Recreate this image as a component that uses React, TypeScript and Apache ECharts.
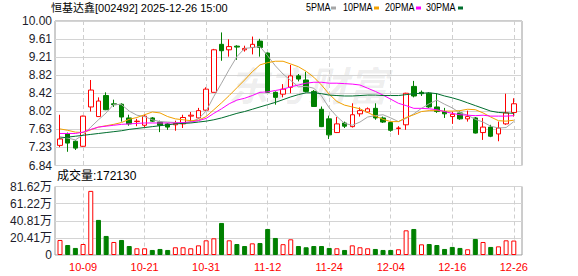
import React, { useEffect, useRef } from "react";
import * as echarts from "echarts";

const dates = [
  "09-26", "09-29", "09-30", "10-09", "10-10", "10-13", "10-14", "10-15", "10-16", "10-17",
  "10-20", "10-21", "10-22", "10-23", "10-24", "10-27", "10-28", "10-29", "10-30", "10-31",
  "11-03", "11-04", "11-05", "11-06", "11-07", "11-10", "11-11", "11-12", "11-13", "11-14",
  "11-17", "11-18", "11-19", "11-20", "11-21", "11-24", "11-25", "11-26", "11-27", "11-28",
  "12-01", "12-02", "12-03", "12-04", "12-05", "12-08", "12-09", "12-10", "12-11", "12-12",
  "12-15", "12-16", "12-17", "12-18", "12-19", "12-22", "12-23", "12-24", "12-25", "12-26",
];
const xTickLabels = ["10-09", "10-21", "10-31", "11-12", "11-24", "12-04", "12-16", "12-26"];

const opens = [
  7.28, 7.53, 7.37, 7.26, 8.12, 7.91, 8.37, 8.19, 8.18, 7.88,
  7.80, 7.72, 7.88, 7.79, 7.75, 7.73, 7.75, 7.92, 7.88, 8.05,
  8.44, 9.49, 9.37, 9.45, 9.37, 9.42, 9.56, 9.30, 8.44, 8.40,
  8.55, 8.80, 8.71, 8.46, 8.07, 7.86, 7.56, 7.77, 7.69, 7.97,
  8.01, 8.09, 7.88, 7.78, 7.65, 7.73, 8.57, 8.44, 8.42, 8.12,
  8.02, 7.91, 7.99, 7.86, 7.88, 7.56, 7.68, 7.53, 7.75, 8.00,
];
const closes = [
  7.42, 7.33, 7.22, 7.92, 8.49, 8.25, 8.06, 8.17, 7.90, 7.75,
  7.81, 7.92, 7.81, 7.72, 7.68, 7.76, 7.89, 7.94, 8.04, 8.51,
  9.37, 9.35, 9.44, 9.43, 9.40, 9.49, 9.42, 8.44, 8.33, 8.51,
  8.80, 8.73, 8.46, 8.13, 7.69, 7.51, 7.75, 7.70, 7.95, 8.04,
  8.08, 7.88, 7.79, 7.61, 7.66, 8.42, 8.36, 8.41, 8.12, 8.02,
  7.97, 7.96, 7.86, 7.91, 7.55, 7.68, 7.48, 7.66, 7.99, 8.19,
];
const lows = [
  7.24, 7.14, 7.18, 7.25, 8.02, 7.91, 8.05, 8.12, 7.80, 7.71,
  7.70, 7.67, 7.79, 7.57, 7.62, 7.60, 7.66, 7.80, 7.86, 8.04,
  8.44, 9.13, 9.22, 9.15, 9.33, 9.27, 9.22, 8.43, 8.17, 8.33,
  8.42, 8.68, 8.44, 8.12, 7.68, 7.42, 7.55, 7.66, 7.67, 7.91,
  7.99, 7.84, 7.77, 7.58, 7.51, 7.62, 8.33, 8.36, 8.10, 7.99,
  7.88, 7.75, 7.84, 7.80, 7.54, 7.40, 7.46, 7.37, 7.73, 7.91,
];
const highs = [
  7.95, 7.56, 7.39, 7.93, 8.71, 8.33, 8.44, 8.28, 8.20, 7.95,
  7.86, 7.95, 7.90, 7.82, 7.77, 7.82, 7.95, 8.01, 8.10, 8.55,
  9.39, 9.75, 9.60, 9.47, 9.46, 9.66, 9.61, 9.31, 8.46, 8.62,
  9.04, 8.84, 8.89, 8.49, 8.13, 7.93, 7.90, 7.80, 8.20, 8.11,
  8.11, 8.20, 7.91, 7.80, 7.70, 8.43, 8.69, 8.48, 8.44, 8.42,
  8.10, 8.02, 8.02, 8.04, 7.90, 7.88, 7.73, 7.80, 8.41, 8.31,
];

const ma5 = [
  7.47, 7.44, 7.40, 7.51, 7.68, 7.84, 7.99, 8.18, 8.17, 8.03,
  7.94, 7.91, 7.84, 7.80, 7.79, 7.78, 7.77, 7.80, 7.86, 8.03,
  8.35, 8.64, 8.94, 9.22, 9.40, 9.42, 9.44, 9.24, 9.02, 8.84,
  8.70, 8.56, 8.57, 8.53, 8.36, 8.10, 7.91, 7.76, 7.72, 7.79,
  7.90, 7.93, 7.95, 7.88, 7.80, 7.87, 7.97, 8.09, 8.19, 8.27,
  8.18, 8.10, 7.99, 7.94, 7.85, 7.79, 7.70, 7.66, 7.67, 7.80,
];
const ma10 = [
  7.64, 7.61, 7.57, 7.56, 7.62, 7.68, 7.71, 7.74, 7.78, 7.85,
  7.89, 7.95, 8.01, 7.99, 7.91, 7.86, 7.84, 7.82, 7.83, 7.91,
  8.06, 8.21, 8.37, 8.54, 8.71, 8.89, 9.04, 9.09, 9.12, 9.12,
  9.06, 9.00, 8.90, 8.77, 8.60, 8.40, 8.24, 8.16, 8.12, 8.08,
  8.00, 7.92, 7.85, 7.80, 7.80, 7.89, 7.95, 8.02, 8.04, 8.04,
  8.03, 8.03, 8.04, 8.07, 8.06, 7.99, 7.90, 7.82, 7.81, 7.83,
];
const ma20 = [
  7.54, 7.54, 7.54, 7.57, 7.63, 7.68, 7.70, 7.72, 7.74, 7.75,
  7.76, 7.77, 7.77, 7.77, 7.77, 7.77, 7.78, 7.79, 7.82, 7.87,
  7.98, 8.08, 8.19, 8.27, 8.31, 8.37, 8.44, 8.45, 8.48, 8.51,
  8.56, 8.60, 8.64, 8.66, 8.66, 8.64, 8.64, 8.63, 8.62, 8.60,
  8.53, 8.46, 8.38, 8.29, 8.20, 8.15, 8.09, 8.09, 8.08, 8.06,
  8.02, 7.98, 7.95, 7.94, 7.93, 7.94, 7.92, 7.92, 7.92, 7.93,
];
const ma30 = [
  7.44, 7.46, 7.48, 7.50, 7.52, 7.54, 7.56, 7.58, 7.60, 7.63,
  7.65, 7.67, 7.69, 7.71, 7.73, 7.75, 7.76, 7.77, 7.79, 7.81,
  7.84, 7.88, 7.93, 7.98, 8.02, 8.07, 8.12, 8.17, 8.22, 8.28,
  8.34, 8.39, 8.43, 8.43, 8.41, 8.38, 8.37, 8.36, 8.36, 8.37,
  8.38, 8.38, 8.37, 8.37, 8.37, 8.39, 8.41, 8.42, 8.43, 8.41,
  8.36, 8.32, 8.27, 8.21, 8.15, 8.09, 8.03, 8.00, 7.99, 7.98,
];

const volumes = [
  179000, 119000, 84000, 131000, 764000, 418000, 227000, 155000, 179000, 107000,
  80000, 80000, 60000, 72000, 60000, 92000, 92000, 80000, 115000, 175000,
  199000, 382000, 175000, 131000, 107000, 139000, 143000, 310000, 203000, 129000,
  187000, 107000, 92000, 107000, 107000, 84000, 80000, 60000, 115000, 92000,
  80000, 72000, 60000, 60000, 68000, 294000, 310000, 127000, 131000, 119000,
  72000, 96000, 84000, 68000, 191000, 155000, 96000, 103000, 175000, 172130,
];

const PRICE_MIN = 6.84;
const PRICE_MAX = 10.0;
const PRICE_STEP = 0.395;
const priceTickLabels = ["6.84", "7.23", "7.63", "8.02", "8.42", "8.82", "9.21", "9.61", "10.00"];
const VOL_MAX = 816200;
const VOL_STEP = 204050;
const volTickLabels = ["0", "20.41万", "40.81万", "61.22万", "81.62万"];

const maNames = ["5PMA", "10PMA", "20PMA", "30PMA"];
const maColors = ["#a6a6a6", "#f2a100", "#ff00ff", "#006e2e"];
const maSeries = [ma5, ma10, ma20, ma30];

const titleText = "恒基达鑫[002492] 2025-12-26 15:00";

const RED = "#ff0000";
const GREEN = "#008000";
const FONT = "'Liberation Sans', 'Noto Sans CJK SC', sans-serif";

export default function App() {
  const ref = useRef<HTMLDivElement>(null);

  useEffect(() => {
    if (!ref.current) return;
    const chart = echarts.init(ref.current, undefined, { renderer: "svg" });

    const showLabel = (idx: number) => xTickLabels.indexOf(dates[idx]) >= 0;

    const candleData = dates.map((_, i) => [opens[i], closes[i], lows[i], highs[i]]);
    const volData = volumes.map((v, i) => {
      const up = i === 0 ? closes[0] >= opens[0] : closes[i] >= closes[i - 1];
      return {
        value: v,
        itemStyle: {
          color: up ? "#ffffff" : GREEN,
          borderColor: up ? RED : GREEN,
          borderWidth: 1,
        },
      };
    });

    const legendGraphics: any[] = [];
    const legendTextX = [306, 343, 385, 426];
    const legendBoxX = [331, 374, 416, 458];
    maNames.forEach((name, i) => {
      legendGraphics.push({
        type: "text",
        x: legendTextX[i],
        y: 2,
        scaleX: 0.82,
        style: { text: name, fill: "#000", font: `11px ${FONT}` },
      });
      legendGraphics.push({
        type: "rect",
        shape: { x: legendBoxX[i], y: 6.5, width: 5, height: 3 },
        style: { fill: maColors[i] },
      });
    });

    const splitX = {
      show: true,
      interval: (idx: number) => showLabel(idx),
      lineStyle: { color: "#cfcfcf", type: [4, 3] as any, width: 1 },
    };

    const option: any = {
      animation: false,
      backgroundColor: "#ffffff",
      grid: [
        { left: 55, right: 56, top: 21, bottom: 110.5, show: true, borderColor: "#9a9a9a", borderWidth: 1, backgroundColor: "transparent" },
        { left: 60, right: 64.2, top: 21, bottom: 110.5 },
        { left: 55, right: 56, top: 186.5, bottom: 21, show: true, borderColor: "#9a9a9a", borderWidth: 1, backgroundColor: "transparent" },
        { left: 60, right: 64.2, top: 186.5, bottom: 21 },
      ],
      xAxis: [
        { type: "value", gridIndex: 0, min: 0, max: 1, show: false },
        {
          type: "category", gridIndex: 1, data: dates, boundaryGap: false,
          axisLine: { show: false }, axisTick: { show: false }, axisLabel: { show: false },
          splitLine: splitX,
        },
        { type: "value", gridIndex: 2, min: 0, max: 1, show: false },
        {
          type: "category", gridIndex: 3, data: dates, boundaryGap: false,
          axisLine: { show: false }, axisTick: { show: false },
          axisLabel: {
            interval: (idx: number) => showLabel(idx),
            color: RED, fontSize: 11, fontFamily: FONT, margin: 6,
          },
          splitLine: splitX,
        },
      ],
      yAxis: [
        {
          type: "value", gridIndex: 0, min: PRICE_MIN, max: PRICE_MAX, interval: PRICE_STEP,
          axisLine: { show: false }, axisTick: { show: false },
          axisLabel: {
            color: "#1c1c2a", fontSize: 12, fontFamily: FONT, margin: 3,
            showMinLabel: true, showMaxLabel: true,
            formatter: (v: number) => priceTickLabels[Math.round((v - PRICE_MIN) / PRICE_STEP)] ?? v.toFixed(2),
          },
          splitLine: { show: true, lineStyle: { color: "#d4d4d4", width: 1 } },
        },
        { type: "value", gridIndex: 1, min: PRICE_MIN, max: PRICE_MAX, show: false },
        {
          type: "value", gridIndex: 2, min: 0, max: VOL_MAX, interval: VOL_STEP,
          axisLine: { show: false }, axisTick: { show: false },
          axisLabel: {
            color: "#1c1c2a", fontSize: 12, fontFamily: FONT, margin: 3,
            showMinLabel: true, showMaxLabel: true,
            formatter: (v: number) => volTickLabels[Math.round(v / VOL_STEP)] ?? String(v),
          },
          splitLine: { show: true, lineStyle: { color: "#d4d4d4", width: 1 } },
        },
        { type: "value", gridIndex: 3, min: 0, max: VOL_MAX, show: false },
      ],
      series: [
        {
          type: "candlestick",
          xAxisIndex: 1,
          yAxisIndex: 1,
          data: candleData,
          barWidth: 5,
          clip: false,
          itemStyle: {
            color: "#ffffff",
            color0: GREEN,
            borderColor: RED,
            borderColor0: GREEN,
            borderWidth: 1,
          },
        },
        ...maSeries.map((d, i) => ({
          type: "line",
          name: maNames[i],
          xAxisIndex: 1,
          yAxisIndex: 1,
          data: d,
          symbol: "none",
          showSymbol: false,
          clip: false,
          lineStyle: { color: maColors[i], width: 1 },
          z: 3,
        })),
        {
          type: "bar",
          xAxisIndex: 3,
          yAxisIndex: 3,
          data: volData,
          barWidth: 5,
          clip: false,
        },
      ],
      graphic: [
        {
          type: "text",
          left: 228,
          top: 64,
          z: 0,
          style: {
            text: "东方财富",
            fill: "rgba(0,0,0,0.07)",
            font: `italic bold 40px 'Noto Sans CJK SC', sans-serif`,
          },
        },
        {
          type: "text",
          left: 51,
          top: 2,
          style: { text: titleText, fill: "#000", font: `11px ${FONT}` },
        },
        ...legendGraphics,
        {
          type: "text",
          left: 57,
          top: 170,
          style: {
            text: `成交量:${volumes[volumes.length - 1]}`,
            fill: "#000",
            font: `12px ${FONT}`,
          },
        },
      ],
    };

    chart.setOption(option);
    return () => chart.dispose();
  }, []);

  return (
    <div
      ref={ref}
      style={{ position: "fixed", left: 0, top: 0, width: 578, height: 276, background: "#fff" }}
    />
  );
}
